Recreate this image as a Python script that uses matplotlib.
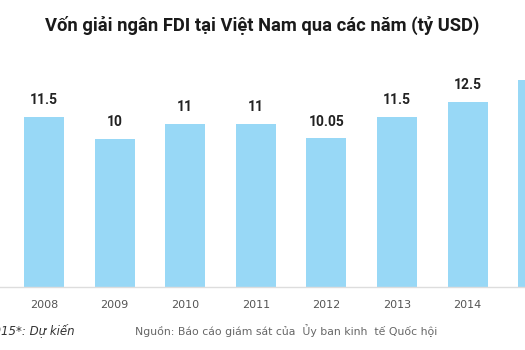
import matplotlib.pyplot as plt

years = ["2008", "2009", "2010", "2011", "2012", "2013", "2014", "2015"]
values = [11.5, 10, 11, 11, 10.05, 11.5, 12.5, 14]
value_labels = ["11.5", "10", "11", "11", "10.05", "11.5", "12.5", "14"]

bar_color = "#98d8f6"

fig = plt.figure(figsize=(5.25, 3.5), dpi=100)
ax = fig.add_axes([0, 63 / 350, 1, 227 / 350])

x = list(range(len(years)))
ax.bar(x, values, width=0.567, color=bar_color, zorder=2)

# value labels above bars; the last one falls outside the view and is clipped
for xi, v, lab in zip(x, values, value_labels):
    ax.annotate(lab, (xi, v), xytext=(0, 7), textcoords="offset points",
                ha="center", va="bottom", fontsize=10, fontweight="bold",
                family="Roboto", color="#222222")

ax.set_xticks(x)
ax.set_xticklabels(years, fontsize=8, color="#555555", family="DejaVu Sans")
# limits set after the ticks, since set_xticks widens the view
ax.set_xlim(-0.623, 6.813)
ax.set_ylim(0, 227 / 14.8)
ax.tick_params(axis="x", length=0, pad=9)
ax.set_yticks([])
for side in ["top", "left", "right"]:
    ax.spines[side].set_visible(False)
ax.spines["bottom"].set_color("#dddddd")
ax.spines["bottom"].set_linewidth(1)

fig.text(0.5, 1 - 25 / 350, "Vốn giải ngân FDI tại Việt Nam qua các năm (tỷ USD)",
         ha="center", va="center", fontsize=13.2, fontweight="bold",
         family="Roboto", color="#1a1a1a")

fig.text(75 / 525, 1 - 331 / 350, "2015*: Dự kiến", ha="right", va="center",
         fontsize=8.5, style="italic", color="#333333", family="DejaVu Sans")
fig.text(135 / 525, 1 - 331 / 350,
         "Nguồn: Báo cáo giám sát của  Ủy ban kinh  tế Quốc hội",
         ha="left", va="center", fontsize=7.8, color="#666666", family="DejaVu Sans")

fig.savefig("out.png", dpi=100, facecolor="white")
